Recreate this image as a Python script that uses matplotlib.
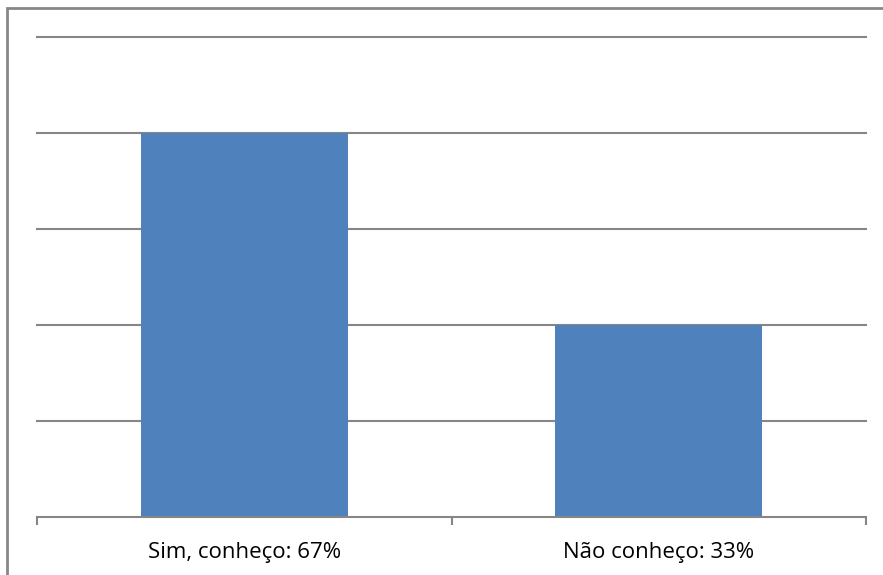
import matplotlib
matplotlib.use("Agg")
import matplotlib.pyplot as plt
from matplotlib.patches import Rectangle

categories = ["Sim, conheço: 67%", "Não conheço: 33%"]
values = [4, 2]
y_max = 5
y_step = 1

W, H = 883, 575
fig = plt.figure(figsize=(W / 100, H / 100), dpi=100)

# outer chart frame (runs off right and bottom edges)
fig.patches.append(Rectangle((7 / W, -0.05), 1.0, 1 - 8 / H + 0.05,
                             transform=fig.transFigure, fill=False,
                             edgecolor="#878787", linewidth=2))

ax = fig.add_axes([37 / W, 1 - 517 / H, (866 - 37) / W, (517 - 37) / H])
x = list(range(len(categories)))
ax.bar(x, values, width=0.5, color="#4f81bd", zorder=2)
ax.set_xlim(-0.5, len(categories) - 0.5)
ax.set_ylim(0, y_max)

for v in range(y_step, y_max + 1, y_step):
    ax.axhline(v, color="#868686", linewidth=1.5, zorder=1, clip_on=False)

for s in ["top", "right", "left"]:
    ax.spines[s].set_visible(False)
ax.spines["bottom"].set_color("#868686")
ax.spines["bottom"].set_linewidth(1.5)

ax.set_yticks([])
ax.set_xticks([-0.5, 0.5, 1.5], minor=False)
ax.set_xticklabels([])
ax.tick_params(axis="x", length=6, width=1.5, color="#868686")
ax.set_xticks(x, minor=True)
ax.set_xticklabels(categories, minor=True, fontsize=16, family="Open Sans")
ax.tick_params(axis="x", which="minor", length=0, pad=18)

fig.savefig("out.png", dpi=100)
